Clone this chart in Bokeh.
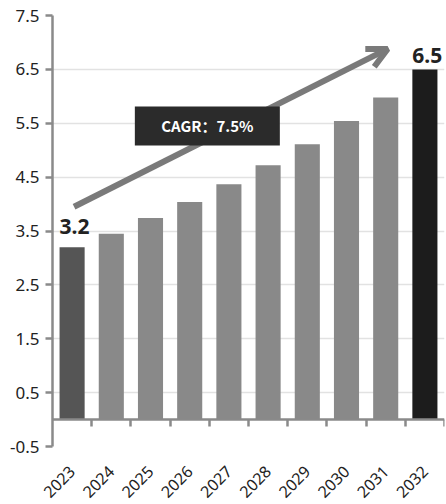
import math
from bokeh.plotting import figure
from bokeh.models import (ColumnDataSource, FixedTicker, LinearAxis, Range1d,
                          Arrow, OpenHead, Label)
from bokeh.core.properties import value
from bokeh.embed import file_html
from bokeh.resources import INLINE

# ---- data ----
years = ["2023", "2024", "2025", "2026", "2027", "2028", "2029", "2030", "2031", "2032"]
market = [3.2, 3.45, 3.74, 4.04, 4.37, 4.72, 5.11, 5.54, 5.98, 6.5]
bar_colors = ["#555555"] + ["#898989"] * 8 + ["#1c1c1c"]
y_ticks = [-0.5, 0.5, 1.5, 2.5, 3.5, 4.5, 5.5, 6.5, 7.5]
y_tick_labels = ["-0.5", "0.5", "1.5", "2.5", "3.5", "4.5", "5.5", "6.5", "7.5"]
cagr_text = "CAGR：7.5%"

FONT = "Noto Sans"

idx = list(range(len(years)))
src = ColumnDataSource(dict(x=idx, top=market, color=bar_colors))

p = figure(frame_width=392, frame_height=431, output_backend="svg", toolbar_location=None,
           x_range=Range1d(-0.5, len(years) - 0.5), y_range=Range1d(-0.5, 7.5),
           min_border_left=52, min_border_right=2, min_border_top=15, min_border_bottom=58,
           x_axis_location=None, y_axis_location=None)
p.outline_line_color = None
p.background_fill_color = "white"

# grid
p.ygrid.ticker = FixedTicker(ticks=y_ticks)
p.ygrid.grid_line_color = "#e2e2e2"
p.ygrid.grid_line_width = 1.5
p.xgrid.grid_line_color = None

# y axis
yax = LinearAxis(ticker=FixedTicker(ticks=y_ticks),
                 major_label_overrides={t: s for t, s in zip(y_ticks, y_tick_labels)})
yax.axis_line_color = "#8a8a8a"
yax.axis_line_width = 2.5
yax.major_tick_line_color = "#8a8a8a"
yax.major_tick_line_width = 2.5
yax.major_tick_out = 7
yax.major_tick_in = 0
yax.minor_tick_line_color = None
yax.major_label_standoff = 6
yax.major_label_text_font = FONT
yax.major_label_text_font_size = "17px"
yax.major_label_text_color = "#222222"
p.add_layout(yax, "left")

# zero axis line with boundary ticks
zax = LinearAxis(ticker=FixedTicker(ticks=[i + 0.5 for i in idx]), fixed_location=0)
zax.axis_line_color = "#8a8a8a"
zax.axis_line_width = 2.5
zax.major_tick_line_color = "#8a8a8a"
zax.major_tick_line_width = 2.5
zax.major_tick_out = 7
zax.major_tick_in = 0
zax.minor_tick_line_color = None
zax.major_label_text_font_size = "0px"
zax.major_label_text_alpha = 0
p.add_layout(zax, "below")

# category label axis
xax = LinearAxis(ticker=FixedTicker(ticks=idx),
                 major_label_overrides={i: y for i, y in zip(idx, years)})
xax.axis_line_color = None
xax.major_tick_line_color = None
xax.minor_tick_line_color = None
xax.major_label_orientation = math.pi / 4
xax.major_label_standoff = 16
xax.major_label_text_font = FONT
xax.major_label_text_font_size = "16px"
xax.major_label_text_color = "#222222"
p.add_layout(xax, "below")

# bars
p.vbar(x="x", top="top", bottom=0, width=0.64, fill_color="color", line_color=None, source=src)

# value labels for first and last
for i in (0, len(years) - 1):
    p.add_layout(Label(x=i - 0.32, y=market[i], text=f"{market[i]:.1f}",
                       text_font=FONT, text_font_style="bold", text_font_size="21px",
                       text_color="#222222", text_align="left", text_baseline="bottom",
                       y_offset=6 if i else 13))

# CAGR arrow (drawn beneath the label box)
p.add_layout(Arrow(x_start=0.05, y_start=3.95, x_end=8.05, y_end=6.88,
                   line_color="#7a7a7a", line_width=6, level="underlay",
                   end=OpenHead(size=20, line_color="#7a7a7a", line_width=6)))

# CAGR box
p.rect(x=[3.45], y=[5.45], width=145, height=39, width_units="screen", height_units="screen",
       fill_color="#2b2b2b", line_color=None)
p.text(x=[3.45], y=[5.45], text=[cagr_text], text_font=value("Noto Sans CJK SC"),
       text_font_style="bold", text_font_size="15px", text_color="white",
       text_align="center", text_baseline="middle")

open("out.html", "w").write(file_html(p, INLINE))
